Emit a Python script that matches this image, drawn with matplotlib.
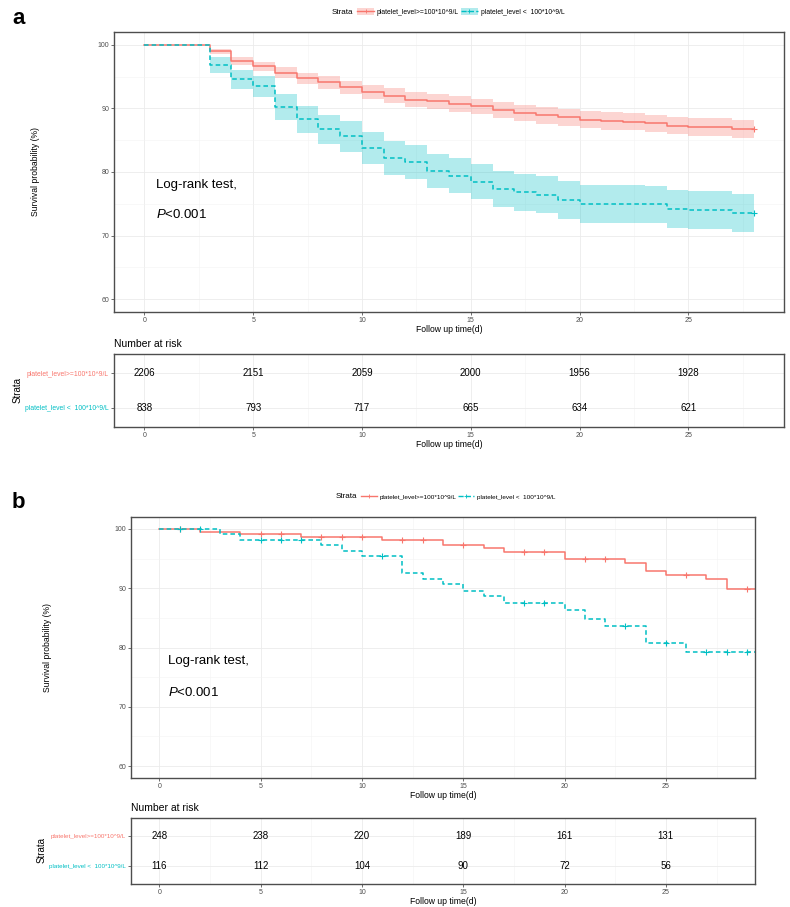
import numpy as np
import matplotlib
matplotlib.use("Agg")
import matplotlib.pyplot as plt
from matplotlib.lines import Line2D
from matplotlib.patches import Patch
from matplotlib.legend_handler import HandlerTuple
from matplotlib.ticker import MultipleLocator

plt.rcParams['font.family'] = ['Liberation Sans', 'DejaVu Sans']
plt.rcParams['mathtext.fontset'] = 'custom'
plt.rcParams['mathtext.rm'] = 'Liberation Sans'
plt.rcParams['mathtext.it'] = 'Liberation Sans:italic'

RED = '#F8766D'
CYAN = '#00BFC4'

labels = ['platelet_level>=100*10^9/L', 'platelet_level <  100*10^9/L']

# ---- panel a: survival curves with 95% CI ----
times_a = [0, 3, 4, 5, 6, 7, 8, 9, 10, 11, 12, 13, 14, 15, 16, 17, 18, 19, 20,
           21, 22, 23, 24, 25, 26, 27, 28]
hi_a = [100, 98.95, 97.45, 96.6, 95.6, 94.7, 94.1, 93.3, 92.5, 92.0, 91.35, 91.1,
        90.7, 90.3, 89.7, 89.3, 88.9, 88.6, 88.2, 88.0, 87.9, 87.65, 87.3, 87.1,
        87.0, 86.8, 86.8]
hi_a_upper = [100, 99.37, 98.05, 97.32, 96.45, 95.63, 95.08, 94.35, 93.6, 93.13,
              92.52, 92.29, 91.91, 91.53, 90.97, 90.59, 90.21, 89.93, 89.55, 89.36,
              89.27, 89.03, 88.7, 88.51, 88.42, 88.23, 88.23]
hi_a_lower = [100, 98.53, 96.85, 95.88, 94.75, 93.77, 93.12, 92.25, 91.4, 90.87,
              90.18, 89.91, 89.49, 89.07, 88.43, 88.01, 87.59, 87.27, 86.85, 86.64,
              86.53, 86.27, 85.9, 85.69, 85.58, 85.37, 85.37]
lo_a = [100, 96.8, 94.6, 93.5, 90.2, 88.3, 86.7, 85.6, 83.8, 82.2, 81.6, 80.2,
        79.4, 78.5, 77.3, 76.8, 76.4, 75.6, 75.0, 75.0, 75.0, 74.9, 74.2, 74.0,
        74.0, 73.55, 73.55]
lo_a_upper = [100, 98.0, 96.1, 95.15, 92.2, 90.45, 89.0, 88.0, 86.3, 84.8, 84.25,
              82.9, 82.15, 81.3, 80.15, 79.68, 79.3, 78.53, 77.95, 77.95, 77.95,
              77.86, 77.18, 77.0, 77.0, 76.57, 76.57]
lo_a_lower = [100, 95.6, 93.1, 91.85, 88.2, 86.15, 84.4, 83.2, 81.3, 79.6, 78.95,
              77.5, 76.65, 75.7, 74.45, 73.92, 73.5, 72.67, 72.05, 72.05, 72.05,
              71.94, 71.22, 71.0, 71.0, 70.53, 70.53]
censor_a = [28]

# ---- panel b: survival curves with censor marks ----
times_b_hi = [0, 2, 4, 7, 11, 14, 16, 17, 20, 23, 24, 25, 27, 28, 29.4]
hi_b = [100, 99.5, 99.1, 98.7, 98.15, 97.25, 96.7, 96.1, 94.9, 94.3, 92.9, 92.3,
        91.5, 89.8, 89.8]
censor_b_hi = [1, 5, 6, 8, 9, 10, 12, 13, 15, 18, 19, 21, 22, 26, 29]
times_b_lo = [0, 3, 4, 8, 9, 10, 12, 13, 14, 15, 16, 17, 20, 21, 22, 24, 26, 29.4]
lo_b = [100, 99.1, 98.15, 97.3, 96.3, 95.5, 92.55, 91.5, 90.7, 89.6, 88.6, 87.5,
        86.3, 84.8, 83.6, 80.7, 79.2, 79.2]
censor_b_lo = [1, 2, 5, 6, 7, 11, 18, 19, 23, 25, 27, 28, 29]

# ---- number at risk ----
risk_times = [0, 5, 10, 15, 20, 25]
risk_a_hi = [2206, 2151, 2059, 2000, 1956, 1928]
risk_a_lo = [838, 793, 717, 665, 634, 621]
risk_b_hi = [248, 238, 220, 189, 161, 131]
risk_b_lo = [116, 112, 104, 90, 72, 56]

W, H = 790, 907


def box(l, t, r, b):
    return [l / W, 1 - b / H, (r - l) / W, (b - t) / H]


def step_at(tt, ss, x):
    idx = np.searchsorted(tt, x, side='right') - 1
    return np.asarray(ss)[idx]


def style(ax):
    ax.set_xlim(-1.4, 29.4)
    ax.xaxis.set_major_locator(MultipleLocator(5))
    ax.xaxis.set_minor_locator(MultipleLocator(2.5))
    ax.grid(which='major', color='#EBEBEB', lw=0.6)
    ax.grid(which='minor', color='#F3F3F3', lw=0.4)
    ax.set_axisbelow(True)
    for s in ax.spines.values():
        s.set_color('#4D4D4D')
        s.set_linewidth(1.0)
    ax.tick_params(which='major', length=2, width=0.5, color='#333333',
                   labelsize=5, labelcolor='#4D4D4D', pad=1.5)
    ax.tick_params(which='minor', length=0)


fig = plt.figure(figsize=(W / 100, H / 100), dpi=100)

ax_a = fig.add_axes(box(114, 32, 784, 312))
tab_a = fig.add_axes(box(114, 354, 784, 427))
ax_b = fig.add_axes(box(131, 517, 755, 778))
tab_b = fig.add_axes(box(131, 818, 755, 884))

# panel a curves
ax_a.fill_between(times_a, hi_a_lower, hi_a_upper, step='post', color=RED,
                  alpha=0.3, lw=0)
ax_a.fill_between(times_a, lo_a_lower, lo_a_upper, step='post', color=CYAN,
                  alpha=0.3, lw=0)
ax_a.step(times_a, hi_a, where='post', color=RED, lw=1.1)
ax_a.step(times_a, lo_a, where='post', color=CYAN, lw=1.1, dashes=(3, 2))
ax_a.plot(censor_a, step_at(times_a, hi_a, censor_a), '+', color=RED, ms=4, mew=0.8)
ax_a.plot(censor_a, step_at(times_a, lo_a, censor_a), '+', color=CYAN, ms=4, mew=0.8)

# panel b curves
ax_b.step(times_b_hi, hi_b, where='post', color=RED, lw=1.1)
ax_b.step(times_b_lo, lo_b, where='post', color=CYAN, lw=1.1, dashes=(3, 2))
ax_b.plot(censor_b_hi, step_at(times_b_hi, hi_b, censor_b_hi), '+', color=RED,
          ms=4, mew=0.8)
ax_b.plot(censor_b_lo, step_at(times_b_lo, lo_b, censor_b_lo), '+', color=CYAN,
          ms=4, mew=0.8)

for ax, lx, ly1, ly2 in [(ax_a, 0.55, 78.0, 73.3), (ax_b, 0.45, 77.8, 72.4)]:
    style(ax)
    ax.set_ylim(58, 102)
    ax.yaxis.set_major_locator(MultipleLocator(10))
    ax.yaxis.set_minor_locator(MultipleLocator(5))
    ax.set_yticks([60, 70, 80, 90, 100])
    ax.set_xlabel('Follow up time(d)', fontsize=6.2, labelpad=1)
    ax.text(lx, ly1, 'Log-rank test,', fontsize=9.5, va='center')
    ax.text(lx, ly2, '$\\it{P}$<0.001', fontsize=9.5, va='center')

# risk tables
for tab, hi, lo, top, fs in [(tab_a, risk_a_hi, risk_a_lo, 2.56, 4.9),
                             (tab_b, risk_b_hi, risk_b_lo, 2.6, 4.5)]:
    style(tab)
    tab.set_ylim(3 - top, top)
    tab.set_yticks([1, 2])
    tab.set_yticklabels([labels[1], labels[0]], fontsize=fs)
    for lab, c in zip(tab.get_yticklabels(), [CYAN, RED]):
        lab.set_color(c)
    for t, n1, n2 in zip(risk_times, hi, lo):
        tab.text(t, 2, str(n1), ha='center', va='center', fontsize=7)
        tab.text(t, 1, str(n2), ha='center', va='center', fontsize=7)
    tab.set_xlabel('Follow up time(d)', fontsize=6.2, labelpad=1)

# legends
for y, lx, sx, with_band, fs in [(12, 357, 353, True, 4.9),
                                 (497, 361, 357, False, 4.6)]:
    handles = []
    for c, ls in [(RED, '-'), (CYAN, '--')]:
        line = Line2D([], [], color=c, lw=1.0, ls=ls, marker='+', ms=3, mew=0.6)
        if with_band:
            handles.append((Patch(facecolor=c, alpha=0.3, lw=0), line))
        else:
            handles.append(line)
    fig.legend(handles, labels, loc='center left', bbox_to_anchor=(lx / W, 1 - y / H),
               ncol=2, frameon=False, fontsize=fs, handlelength=2.5,
               handleheight=1.3, handletextpad=0.4, columnspacing=0.3,
               borderpad=0, borderaxespad=0,
               handler_map={tuple: HandlerTuple(ndivide=1)})
    fig.text(sx / W, 1 - y / H, 'Strata', fontsize=5.8, ha='right', va='center')

# labels
fig.text(12 / W, 1 - 18 / H, 'a', fontsize=16, fontweight='bold', va='center')
fig.text(12 / W, 1 - 503 / H, 'b', fontsize=16, fontweight='bold', va='center')
fig.text(35 / W, 1 - 172 / H, 'Survival probability (%)', rotation=90,
         fontsize=6.2, ha='center', va='center')
fig.text(48 / W, 1 - 648 / H, 'Survival probability (%)', rotation=90,
         fontsize=6.2, ha='center', va='center')
fig.text(18 / W, 1 - 390 / H, 'Strata', rotation=90, fontsize=7,
         ha='center', va='center')
fig.text(42 / W, 1 - 850 / H, 'Strata', rotation=90, fontsize=7,
         ha='center', va='center')
fig.text(114 / W, 1 - 344 / H, 'Number at risk', fontsize=7.5, va='center')
fig.text(131 / W, 1 - 808 / H, 'Number at risk', fontsize=7.5, va='center')

fig.savefig('out.png', dpi=100)
